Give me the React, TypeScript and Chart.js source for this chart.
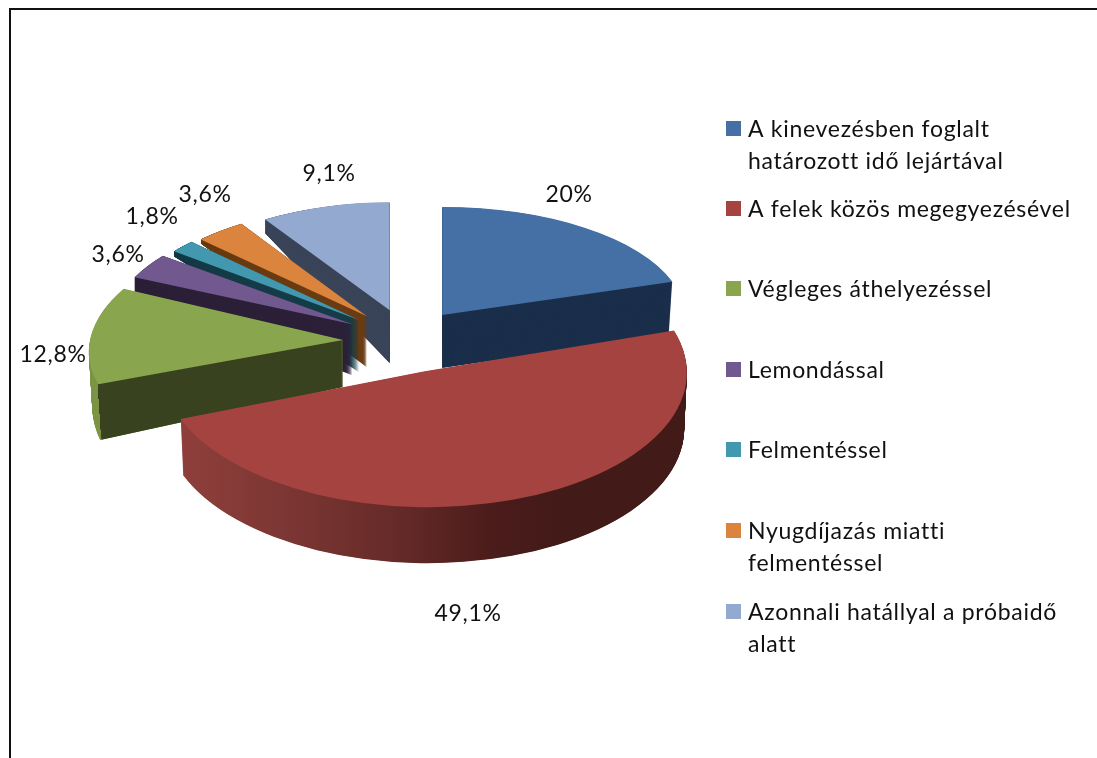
import React, { useEffect, useRef } from "react";
import { Chart, registerables } from "chart.js";

Chart.register(...registerables);

const categories = [
  "A kinevezésben foglalt határozott idő lejártával",
  "A felek közös megegyezésével",
  "Végleges áthelyezéssel",
  "Lemondással",
  "Felmentéssel",
  "Nyugdíjazás miatti felmentéssel",
  "Azonnali hatállyal a próbaidő alatt",
];
const legendLines = [
  ["A kinevezésben foglalt", "határozott idő lejártával"],
  ["A felek közös megegyezésével"],
  ["Végleges áthelyezéssel"],
  ["Lemondással"],
  ["Felmentéssel"],
  ["Nyugdíjazás miatti", "felmentéssel"],
  ["Azonnali hatállyal a próbaidő", "alatt"],
];
const values = [20, 49.1, 12.8, 3.6, 1.8, 3.6, 9.1];
const topColors = ["#4470a5", "#a54341", "#89a54e", "#71588f", "#4198af", "#db843d", "#93a9cf"];
const faceColors = ["#1b2f4b", "#4a1c1a", "#3a4320", "#2d2139", "#173d49", "#6b3d14", "#3a4458"];

const FONT = '23px Lato, "Open Sans", sans-serif';
const CX = 408, CY = 341, EXPLODE_X = 65, EXPLODE_Y = 32;

// screen shape of each slice: radii, wall depth, rim growth, nudge, shear of the top (skew*) and of the lower rim (fall)
const shapes = [
  { rx: 242, ry: 108, depth: 53, gy: 1, gx: 0.985, dx: -4, dy: 0, skewX: 0, skewY: 0, fall: 0 },
  { rx: 262, ry: 136, depth: 56, gy: 1, gx: 0.99, dx: -5, dy: 0, skewX: 0, skewY: 0.006, fall: 0 },
  { rx: 253, ry: 122, depth: 47, gy: 1.2, gx: 0.985, dx: 0, dy: 0, skewX: -0.2, skewY: 0, fall: 0 },
  { rx: 240, ry: 112, depth: 51, gy: 1, gx: 1, dx: 0, dy: 0, skewX: 0, skewY: 0, fall: 0.165 },
  { rx: 234, ry: 112, depth: 52, gy: 1, gx: 1, dx: 0, dy: 0, skewX: 0, skewY: 0, fall: 0.254 },
  { rx: 232, ry: 110, depth: 51, gy: 1, gx: 1, dx: 0, dy: 0, skewX: 0, skewY: 0, fall: 0.283 },
  { rx: 230, ry: 108, depth: 53, gy: 1, gx: 1, dx: 0, dy: 0, skewX: 0, skewY: 0, fall: 0.315 },
];
const drawOrder = [6, 5, 4, 3, 2, 0, 1];
const labelPos = [
  [569, 195], [468, 614], [53, 355], [118, 255], [152, 217], [205, 195], [329, 174],
];
const LEGEND_X = 748, MARKER_X = 726, MARKER = 15, LINE = 32;
const legendBaselines = [137, 217, 297, 378, 458, 539, 620];
const redWallStops: [number, string][] = [
  [181, "#8f3f3b"], [280, "#7d3734"], [400, "#652a28"], [490, "#4b1c1b"], [560, "#421a18"], [690, "#421a18"],
];

function pieceDraw(ctx: any, arc: any, i: number, t: number, fill: (lx: (x: number) => number) => any) {
  const s = shapes[i];
  const mid = (arc.startAngle + arc.endAngle) / 2;
  const R = arc.outerRadius;
  const px = CX + Math.cos(mid) * EXPLODE_X + s.dx;
  const py = CY + Math.sin(mid) * EXPLODE_Y + s.dy + t * s.depth;
  const sx = (s.rx / R) * (1 + (s.gx - 1) * t);
  const sy = (s.ry / R) * (1 + (s.gy - 1) * t);
  ctx.save();
  ctx.translate(px, py);
  ctx.transform(1, s.skewY + s.fall * t, s.skewX, 1, 0, 0);
  ctx.scale(sx, sy);
  ctx.translate(-arc.x, -arc.y);
  const saved = arc.options;
  const o = Object.create(saved);
  o.backgroundColor = fill((x: number) => arc.x + (x - px) / sx);
  o.borderWidth = 0;
  arc.options = o;
  arc.draw(ctx);
  arc.options = saved;
  ctx.restore();
}

function drawWall(ctx: any, arc: any, i: number, fill: (lx: (x: number) => number) => any) {
  const depth = shapes[i].depth;
  for (let k = depth * 2; k >= 1; k--) pieceDraw(ctx, arc, i, k / (depth * 2), fill);
}

const pie3d = {
  id: "pie3d",
  beforeDraw(chart: any) {
    const ctx = chart.ctx;
    ctx.save();
    ctx.fillStyle = "#111";
    ctx.fillRect(9, 8, 2, 750);
    ctx.fillRect(9, 8, 1088, 2);
    ctx.restore();
  },
  beforeDatasetDraw(chart: any) {
    const ctx = chart.ctx;
    const arcs = chart.getDatasetMeta(0).data;
    for (const i of drawOrder) {
      const arc = arcs[i];
      if (i === 1) {
        drawWall(ctx, arc, i, (lx) => {
          const g = ctx.createLinearGradient(lx(181), 0, lx(690), 0);
          for (const [x, c] of redWallStops) g.addColorStop((x - 181) / 509, c);
          return g;
        });
      } else if (i === 2) {
        drawWall(ctx, arc, i, () => "#7c9545");
        ctx.save();
        ctx.beginPath();
        ctx.moveTo(98, 300);
        ctx.lineTo(98, 383);
        ctx.lineTo(102, 445);
        ctx.lineTo(400, 445);
        ctx.lineTo(400, 300);
        ctx.closePath();
        ctx.clip();
        drawWall(ctx, arc, i, () => faceColors[i]);
        ctx.restore();
      } else {
        drawWall(ctx, arc, i, () => faceColors[i]);
      }
      pieceDraw(ctx, arc, i, 0, () => topColors[i]);
    }
    return false;
  },
  afterDraw(chart: any) {
    const ctx = chart.ctx;
    ctx.save();
    ctx.font = FONT;
    ctx.letterSpacing = "0.7px";
    ctx.fillStyle = "#111";
    ctx.textBaseline = "middle";
    ctx.textAlign = "center";
    values.forEach((v, i) => {
      ctx.fillText(String(v).replace(".", ",") + "%", labelPos[i][0], labelPos[i][1]);
    });
    ctx.textAlign = "left";
    ctx.textBaseline = "alphabetic";
    legendLines.forEach((lines, i) => {
      const y = legendBaselines[i];
      ctx.fillStyle = topColors[i];
      ctx.fillRect(MARKER_X, y - 16, MARKER, MARKER);
      ctx.fillStyle = "#111";
      lines.forEach((line, j) => ctx.fillText(line, LEGEND_X, y + j * LINE));
    });
    ctx.restore();
  },
};

export default function App() {
  const ref = useRef<HTMLCanvasElement>(null);
  useEffect(() => {
    const chart = new Chart(ref.current as HTMLCanvasElement, {
      type: "pie",
      data: {
        labels: categories,
        datasets: [{ data: values, backgroundColor: topColors, borderWidth: 0 }],
      },
      options: {
        animation: false,
        responsive: false,
        radius: 150,
        plugins: { legend: { display: false }, tooltip: { enabled: false } },
      } as any,
      plugins: [pie3d as any],
    });
    return () => chart.destroy();
  }, []);
  return (
    <div style={{ position: "fixed", left: 0, top: 0, width: 1097, height: 758, overflow: "hidden", background: "#fff" }}>
      <canvas ref={ref} width={1097} height={758} style={{ display: "block" }} />
    </div>
  );
}
